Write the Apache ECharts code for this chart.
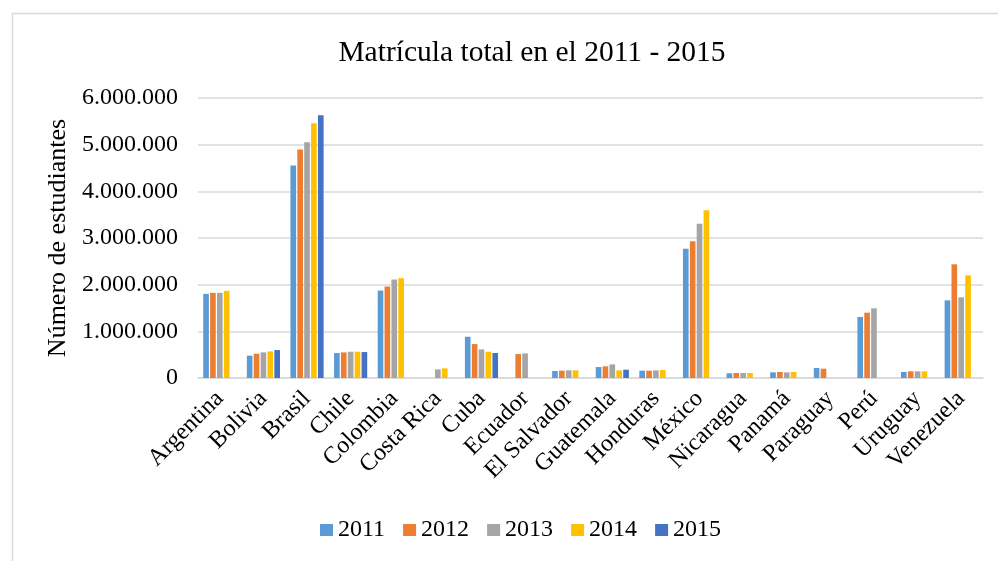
<!DOCTYPE html>
<html>
<head>
<meta charset="utf-8">
<script src="https://cdn.jsdelivr.net/npm/echarts@6/dist/echarts.min.js"></script>
<style>html,body{margin:0;padding:0;background:#fff;}#c{width:998px;height:561px;}</style>
</head>
<body>
<div id="c"></div>
<script>
const categories = ['Argentina','Bolivia','Brasil','Chile','Colombia','Costa Rica','Cuba','Ecuador','El Salvador','Guatemala','Honduras','México','Nicaragua','Panamá','Paraguay','Perú','Uruguay','Venezuela'];
const years = ['2011','2012','2013','2014','2015'];
const v2011 = [1803000, 478000, 4554000, 535000, 1874000, null, 884000, null, 150000, 235000, 157000, 2771000, 100000, 121000, 214000, 1307000, 129000, 1664000];
const v2012 = [1825000, 520000, 4897000, 549000, 1960000, null, 727000, 513000, 157000, 250000, 157000, 2929000, 107000, 129000, 200000, 1400000, 143000, 2436000];
const v2013 = [1825000, 549000, 5053000, 563000, 2110000, 185000, 613000, 527000, 164000, 292000, 164000, 3307000, 107000, 121000, null, 1493000, 143000, 1729000];
const v2014 = [1867000, 570000, 5460000, 563000, 2138000, 207000, 563000, null, 164000, 164000, 171000, 3593000, 107000, 129000, null, null, 143000, 2200000];
const v2015 = [null, 599000, 5630000, 556000, null, null, 535000, null, null, 178000, null, null, null, null, null, null, null, null];
const yTicks = [0, 1000000, 2000000, 3000000, 4000000, 5000000, 6000000];
const colors = ['#5B9BD5', '#ED7D31', '#A5A5A5', '#FFC000', '#4472C4'];
const seriesValues = [v2011, v2012, v2013, v2014, v2015];

const fmt = v => String(v).replace(/\B(?=(\d{3})+(?!\d))/g, '.');
const FONT = '"Liberation Serif", "Times New Roman", serif';

const chart = echarts.init(document.getElementById('c'));
chart.setOption({
  animation: false,
  textStyle: { fontFamily: FONT },
  graphic: [{
    type: 'rect', left: 10, top: 11,
    shape: { width: 1000, height: 600 },
    style: { fill: 'none', stroke: '#D9D9D9', lineWidth: 1.5 },
    silent: true
  }],
  title: {
    text: 'Matrícula total en el 2011 - 2015',
    left: 527, top: 33, textAlign: 'center',
    textStyle: { fontFamily: FONT, fontSize: 29.5, fontWeight: 'normal', color: '#000' }
  },
  legend: {
    data: years,
    icon: 'rect',
    left: 315, top: 513,
    itemWidth: 13, itemHeight: 12, itemGap: 18,
    textStyle: { fontFamily: FONT, fontSize: 24, color: '#000' }
  },
  grid: { left: 198, right: 15, top: 98, bottom: 183, containLabel: false },
  xAxis: {
    type: 'category', data: categories,
    axisLine: { lineStyle: { color: '#D9D9D9', width: 1.5 } },
    axisTick: { show: false },
    axisLabel: { rotate: 45, interval: 0, margin: 17, fontFamily: FONT, fontSize: 24, color: '#000' }
  },
  yAxis: {
    type: 'value', min: yTicks[0], max: yTicks[yTicks.length - 1], interval: 1000000,
    name: 'Número de estudiantes', nameLocation: 'middle', nameGap: 121,
    nameTextStyle: { fontFamily: FONT, fontSize: 26, color: '#000' },
    axisLine: { show: false }, axisTick: { show: false },
    axisLabel: { margin: 20, fontFamily: FONT, fontSize: 24, color: '#000', formatter: fmt },
    splitLine: { lineStyle: { color: '#D9D9D9', width: 1.5 } }
  },
  series: years.map((y, i) => ({
    name: y, type: 'bar', data: seriesValues[i],
    itemStyle: { color: colors[i] },
    barGap: '22%', barCategoryGap: '24%'
  }))
});
</script>
</body>
</html>
